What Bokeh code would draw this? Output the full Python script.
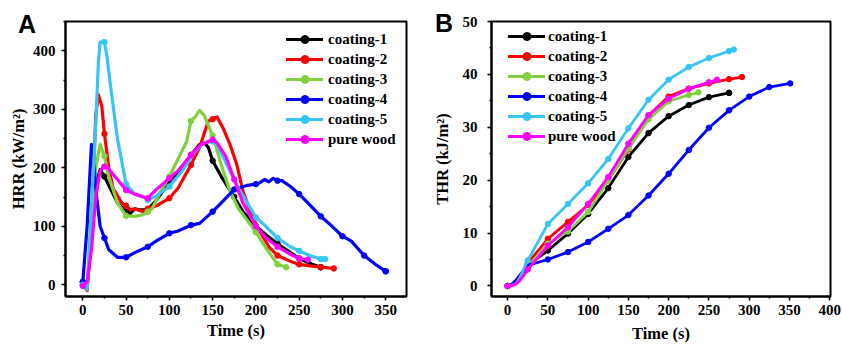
from bokeh.plotting import figure
from bokeh.layouts import row
from bokeh.models import Legend, LegendItem, Div, SingleIntervalTicker, Range1d
from bokeh.embed import file_html
from bokeh.resources import INLINE

names = ["coating-1", "coating-2", "coating-3", "coating-4", "coating-5", "pure wood"]
colors = ["#000000", "#FF0000", "#80D040", "#0000FF", "#36C5F4", "#FF00FF"]

# ---- HRR (kW/m2) ----
hrr_t1 = [0, 5, 10, 15, 20, 25, 30, 40, 50, 55, 60, 65, 75, 85, 100, 110, 125, 135, 140, 145, 150, 160, 175, 185, 200, 212, 225, 240, 250, 265, 275]
hrr_v1 = [5, -3, 80, 170, 197, 185, 170, 140, 125, 122, 130, 128, 128, 145, 175, 192, 222, 240, 243, 235, 212, 185, 150, 125, 100, 85, 70, 55, 45, 35, 30]
hrr_t2 = [0, 5, 10, 15, 18, 22, 25, 30, 35, 45, 50, 55, 60, 70, 75, 85, 100, 110, 125, 135, 145, 150, 155, 162, 170, 178, 185, 195, 205, 215, 225, 240, 250, 265, 275, 290]
hrr_v2 = [0, -10, 100, 290, 325, 305, 258, 200, 165, 140, 135, 128, 130, 125, 130, 135, 148, 165, 205, 235, 280, 283, 287, 268, 240, 205, 160, 120, 90, 65, 50, 40, 35, 32, 30, 28]
hrr_t3 = [0, 5, 10, 15, 20, 25, 30, 40, 50, 60, 70, 75, 80, 90, 100, 110, 120, 125, 130, 135, 140, 150, 160, 170, 180, 190, 200, 212, 225, 235]
hrr_v3 = [0, -5, 80, 200, 240, 220, 185, 140, 118, 117, 120, 125, 130, 160, 185, 215, 245, 280, 287, 298, 290, 255, 205, 160, 130, 110, 90, 62, 35, 30]
hrr_t4 = [0, 5, 10, 13, 16, 20, 25, 30, 40, 50, 60, 75, 85, 100, 110, 125, 135, 150, 160, 175, 190, 200, 205, 210, 215, 220, 225, 230, 240, 250, 260, 275, 288, 300, 310, 325, 338, 350]
hrr_v4 = [5, 100, 240, 200, 150, 100, 80, 60, 47, 47, 55, 65, 75, 88, 92, 102, 105, 125, 140, 163, 170, 172, 175, 180, 176, 182, 178, 178, 168, 155, 140, 117, 100, 83, 75, 50, 35, 23]
hrr_t5 = [0, 5, 10, 15, 18, 20, 25, 28, 32, 40, 50, 60, 70, 75, 85, 100, 115, 130, 140, 150, 155, 160, 170, 178, 190, 200, 210, 225, 240, 250, 262, 275, 280]
hrr_v5 = [0, -8, 135, 275, 380, 415, 415, 390, 340, 250, 172, 155, 150, 145, 152, 168, 195, 228, 243, 245, 240, 225, 195, 170, 140, 115, 102, 80, 65, 58, 50, 44, 44]
hrr_t6 = [0, 5, 10, 15, 20, 25, 30, 40, 50, 60, 75, 85, 100, 110, 125, 135, 145, 150, 155, 165, 175, 185, 200, 212, 225, 240, 250, 260]
hrr_v6 = [-2, 5, 60, 150, 195, 202, 198, 180, 162, 155, 148, 163, 182, 195, 222, 238, 245, 248, 243, 220, 180, 140, 100, 80, 65, 52, 45, 43]

# ---- THR (kJ/m2) ----
thr_t1 = [0, 5, 10, 15, 20, 25, 50, 75, 100, 125, 150, 175, 200, 225, 250, 275]
thr_v1 = [0, 0.1, 0.5, 1.5, 2.8, 3.9, 6.7, 9.9, 13.6, 18.5, 24.4, 28.9, 32.1, 34.2, 35.7, 36.5]
thr_t2 = [0, 5, 10, 15, 20, 25, 50, 75, 100, 125, 150, 175, 200, 225, 250, 275, 291]
thr_v2 = [0, 0.1, 0.5, 1.5, 2.9, 4.3, 8.9, 12.1, 15.3, 20.0, 25.8, 32.2, 35.8, 37.3, 38.3, 39.1, 39.5]
thr_t3 = [0, 5, 10, 15, 20, 25, 50, 75, 100, 125, 150, 175, 200, 225, 237]
thr_v3 = [0, 0.1, 0.4, 1.2, 2.3, 3.4, 8.0, 10.3, 14.0, 20.0, 26.0, 31.5, 34.9, 36.1, 36.6]
thr_t4 = [0, 5, 10, 15, 20, 25, 50, 75, 100, 125, 150, 175, 200, 225, 250, 275, 300, 325, 351]
thr_v4 = [0, 0.3, 1.0, 2.0, 3.0, 3.9, 5.0, 6.4, 8.3, 10.8, 13.4, 17.1, 21.2, 25.7, 29.9, 33.2, 35.8, 37.6, 38.3]
thr_t5 = [0, 5, 10, 15, 20, 25, 50, 75, 100, 125, 150, 175, 200, 225, 250, 275, 281]
thr_v5 = [0, 0.1, 0.4, 1.5, 3.2, 4.8, 11.7, 15.5, 19.4, 24.0, 29.8, 35.2, 39.0, 41.4, 43.1, 44.4, 44.7]
thr_t6 = [0, 5, 10, 15, 20, 25, 50, 75, 100, 125, 150, 175, 200, 225, 250, 260]
thr_v6 = [0, 0.0, 0.3, 1.0, 2.0, 3.1, 7.6, 11.1, 15.5, 20.6, 26.9, 32.3, 35.4, 37.3, 38.5, 39.0]

hrr = [(hrr_t1, hrr_v1), (hrr_t2, hrr_v2), (hrr_t3, hrr_v3), (hrr_t4, hrr_v4), (hrr_t5, hrr_v5), (hrr_t6, hrr_v6)]
thr = [(thr_t1, thr_v1), (thr_t2, thr_v2), (thr_t3, thr_v3), (thr_t4, thr_v4), (thr_t5, thr_v5), (thr_t6, thr_v6)]

SERIF = "Liberation Serif"


def style(p, xint, yint, ystandoff, ylabel_standoff, xlabel_standoff):
    p.outline_line_color = "black"
    p.outline_line_width = 2
    p.xgrid.visible = False
    p.ygrid.visible = False
    p.xaxis.ticker = SingleIntervalTicker(interval=xint, num_minor_ticks=2)
    p.yaxis.ticker = SingleIntervalTicker(interval=yint, num_minor_ticks=2)
    for ax in (p.xaxis[0], p.yaxis[0]):
        ax.axis_line_width = 2
        ax.major_tick_in = 0
        ax.major_tick_out = 4
        ax.minor_tick_in = 0
        ax.minor_tick_out = 2
        ax.major_tick_line_width = 1.5
        ax.minor_tick_line_width = 1.5
        ax.major_label_text_font = SERIF
        ax.major_label_text_font_style = "bold"
        ax.major_label_text_font_size = "15px"
        ax.major_label_text_color = "black"
        ax.axis_label_text_font = SERIF
        ax.axis_label_text_font_style = "bold"
        ax.axis_label_text_color = "black"
    p.xaxis.axis_label_text_font_size = "16.5px"
    p.yaxis.axis_label_text_font_size = "16.5px"
    p.xaxis.major_label_standoff = 4
    p.xaxis.axis_label_standoff = xlabel_standoff
    p.yaxis.major_label_standoff = ystandoff
    p.yaxis.axis_label_standoff = ylabel_standoff


def add_series(p, data, lw, msize):
    items = []
    for (t, v), name, c in zip(data, names, colors):
        r1 = p.line(t, v, line_color=c, line_width=lw, line_join="round", line_cap="round")
        mt = [ti for ti in t if ti % 25 == 0] + [t[-1]]
        mv = [vi for ti, vi in zip(t, v) if ti % 25 == 0] + [v[-1]]
        r2 = p.scatter(mt, mv, marker="circle", size=msize, fill_color=c, line_color=c)
        items.append(LegendItem(label=name, renderers=[r1, r2]))
    return items


def make_legend(items, loc, standoff):
    return Legend(items=items, location=loc, padding=0, margin=0, spacing=0,
                  border_line_color=None, background_fill_alpha=0,
                  glyph_width=37, glyph_height=20, label_height=20,
                  label_standoff=standoff, label_text_font=SERIF,
                  label_text_font_style="bold", label_text_font_size="15px",
                  label_text_color="black")


def panel_letter(text, left, top):
    return Div(text=text, styles={"position": "absolute", "left": f"{left}px", "top": f"{top}px",
                                  "font-family": "Liberation Sans", "font-weight": "bold",
                                  "font-size": "25px", "line-height": "25px", "color": "black",
                                  "margin": "0", "padding": "0"})


# Panel A
pA = figure(width=420, height=346, output_backend="svg", toolbar_location=None,
            x_range=Range1d(-20, 374), y_range=Range1d(-20, 450),
            min_border_left=65, min_border_right=14, min_border_top=21, min_border_bottom=47)
pA.xaxis.axis_label = "Time (s)"
pA.yaxis.axis_label = "HRR (kW/m²)"
style(pA, 50, 100, 6, 2, 3)
itemsA = add_series(pA, hrr, 3.2, 5.5)
pA.add_layout(make_legend(itemsA, (221, 147), 5))

# Panel B
pB = figure(width=422, height=346, output_backend="svg", toolbar_location=None,
            x_range=Range1d(-20, 401), y_range=Range1d(-2, 50),
            min_border_left=71, min_border_right=12, min_border_top=14, min_border_bottom=50)
pB.xaxis.axis_label = "Time (s)"
pB.yaxis.axis_label = "THR (kJ/m²)"
style(pB, 50, 10, 10, 8, 6)
itemsB = add_series(pB, thr, 2.8, 5.5)
pB.add_layout(make_legend(itemsB, (17, 150), 3))

layout = row(pA, pB, panel_letter("A", 18, 12), panel_letter("B", 435, 11))
open("out.html", "w").write(file_html(layout, INLINE))
